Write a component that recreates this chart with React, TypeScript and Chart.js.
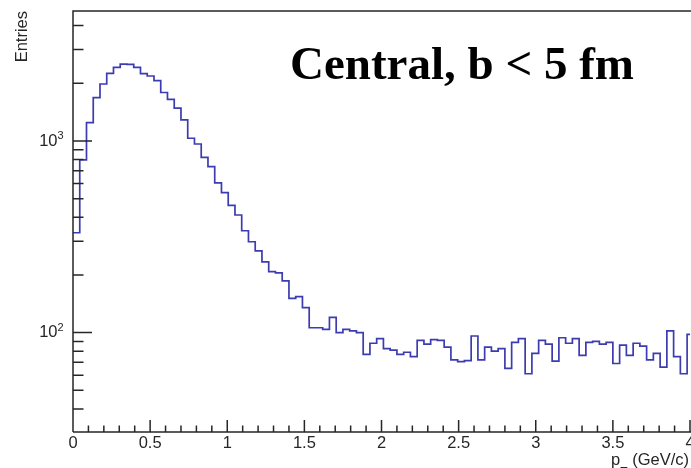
import React, { useEffect, useRef } from "react";
import { Chart, registerables } from "chart.js";

Chart.register(...registerables);

// ---- data ----
const BIN_WIDTH = 0.04375; // GeV/c per bin
const COUNTS = [
  332, 796, 1246, 1683, 1983, 2254, 2423, 2520, 2510, 2423,
  2245, 2183, 2064, 1790, 1650, 1485, 1287, 1033, 964, 822,
  735, 604, 538, 461, 411, 340, 298, 267, 234, 208,
  205, 186, 151, 154, 135, 106, 106, 104, 120, 100,
  104, 102, 100, 77, 88, 93, 82.5, 81, 77, 79,
  75, 91, 87, 92, 91, 84, 72, 70.6, 71.4, 96,
  72, 84, 80, 82.5, 65, 89, 93, 61, 78, 91,
  87, 71, 94, 88, 93, 76, 89, 90, 87, 89,
  69, 86, 76, 88, 85, 72, 78, 66, 102, 75,
  61, 98,
];

const X_MIN = 0;
const X_MAX = 4;
const Y_MIN = 30.3;
const Y_MAX = 4766;

const X_MAJOR_TICKS = [0, 0.5, 1, 1.5, 2, 2.5, 3, 3.5, 4];
const X_TICK_LABELS = ["0", "0.5", "1", "1.5", "2", "2.5", "3", "3.5", "4"];
const X_MINOR_STEP = 0.1;
const Y_MAJOR_TICKS = [100, 1000];
const Y_TICK_BASES = ["10", "10"];
const Y_TICK_EXPONENTS = ["2", "3"];
const Y_MINOR_TICKS = [40, 50, 60, 70, 80, 90, 200, 300, 400, 500, 600, 700, 800, 900, 2000, 3000, 4000];

const Y_TITLE = "Entries";
const X_TITLE_MAIN = "p";
const X_TITLE_SUB = "T";
const X_TITLE_REST = " (GeV/c)";
const ANNOTATION = "Central, b < 5 fm";

// ---- styles ----
const SANS = '"Liberation Sans", Arial, Helvetica, sans-serif';
const SERIF = '"Liberation Serif", "Times New Roman", serif';
const AXIS_COLOR = "#262626";
const LINE_COLOR = "#3c3cb0";

const rootAxesPlugin = {
  id: "rootAxes",
  afterDraw(chart: any) {
    const { ctx, chartArea: a, scales } = chart;
    const xs = scales.x;
    const ys = scales.y;
    ctx.save();
    ctx.strokeStyle = AXIS_COLOR;
    ctx.lineWidth = 1.5;
    ctx.beginPath();
    // frame (left, top, bottom)
    ctx.moveTo(a.left, a.bottom);
    ctx.lineTo(a.left, a.top);
    ctx.lineTo(a.right + 5, a.top);
    ctx.moveTo(a.left, a.bottom);
    ctx.lineTo(a.right + 5, a.bottom);
    // x major ticks
    for (const v of X_MAJOR_TICKS) {
      const px = xs.getPixelForValue(v);
      ctx.moveTo(px, a.bottom);
      ctx.lineTo(px, a.bottom - 12);
    }
    // x minor ticks
    const nMinor = Math.round((X_MAX - X_MIN) / X_MINOR_STEP);
    for (let k = 1; k < nMinor; k++) {
      if (k % 5 === 0) continue;
      const px = xs.getPixelForValue(X_MIN + k * X_MINOR_STEP);
      ctx.moveTo(px, a.bottom);
      ctx.lineTo(px, a.bottom - 6.5);
    }
    // y major ticks
    for (const v of Y_MAJOR_TICKS) {
      const py = ys.getPixelForValue(v);
      ctx.moveTo(a.left, py);
      ctx.lineTo(a.left + 19, py);
    }
    for (const v of Y_MINOR_TICKS) {
      const py = ys.getPixelForValue(v);
      ctx.moveTo(a.left, py);
      ctx.lineTo(a.left + 10.5, py);
    }
    ctx.stroke();

    ctx.fillStyle = AXIS_COLOR;
    ctx.textBaseline = "alphabetic";
    ctx.textAlign = "left";

    // exponents of the y tick labels (10^n)
    ctx.font = `11px ${SANS}`;
    Y_MAJOR_TICKS.forEach((v, i) => {
      const py = ys.getPixelForValue(v);
      ctx.fillText(Y_TICK_EXPONENTS[i], a.left - 15.5, py - 1.5);
    });

    // x axis title, right aligned at the axis end
    const mainFont = `16.5px ${SANS}`;
    const subFont = `12px ${SANS}`;
    ctx.font = mainFont;
    const restW = ctx.measureText(X_TITLE_REST).width;
    const pW = ctx.measureText(X_TITLE_MAIN).width;
    ctx.font = subFont;
    const subW = ctx.measureText(X_TITLE_SUB).width;
    const right = 689;
    const baseY = 465;
    ctx.font = mainFont;
    ctx.fillText(X_TITLE_REST, right - restW, baseY);
    ctx.font = subFont;
    ctx.fillText(X_TITLE_SUB, right - restW - subW, baseY + 10.5);
    ctx.font = mainFont;
    ctx.fillText(X_TITLE_MAIN, right - restW - subW - pW, baseY);

    // annotation
    ctx.fillStyle = "#000";
    ctx.font = `bold 47px ${SERIF}`;
    ctx.fillText(ANNOTATION, 290, 79);
    ctx.restore();
  },
};

export default function App() {
  const canvasRef = useRef<HTMLCanvasElement | null>(null);

  useEffect(() => {
    const canvas = canvasRef.current;
    if (!canvas) return;
    const points = COUNTS.map((c, i) => ({ x: X_MIN + i * BIN_WIDTH, y: c }));
    points.push({ x: X_MIN + COUNTS.length * BIN_WIDTH, y: COUNTS[COUNTS.length - 1] });

    const chart = new Chart(canvas, {
      type: "line",
      data: {
        datasets: [
          {
            data: points,
            stepped: true,
            borderColor: LINE_COLOR,
            borderWidth: 1.7,
            pointRadius: 0,
            fill: false,
          },
        ],
      },
      options: {
        animation: false,
        responsive: false,
        events: [],
        layout: { autoPadding: false, padding: { left: 0, top: 11, right: 1, bottom: 0 } },
        plugins: { legend: { display: false }, tooltip: { enabled: false } },
        scales: {
          x: {
            type: "linear",
            min: X_MIN,
            max: X_MAX,
            grid: { display: false, drawTicks: false },
            border: { display: false },
            afterBuildTicks: (scale: any) => {
              scale.ticks = X_MAJOR_TICKS.map((v) => ({ value: v }));
            },
            afterFit: (scale: any) => {
              scale.height = 36;
              scale.paddingLeft = 0;
              scale.paddingRight = 0;
              scale.paddingTop = 0;
              scale.paddingBottom = 0;
            },
            ticks: {
              autoSkip: false,
              maxRotation: 0,
              padding: 2,
              color: AXIS_COLOR,
              font: { family: SANS, size: 16.5 },
              callback: (_v: any, i: number) => X_TICK_LABELS[i],
            },
          },
          y: {
            type: "logarithmic",
            min: Y_MIN,
            max: Y_MAX,
            grid: { display: false, drawTicks: false },
            border: { display: false },
            afterBuildTicks: (scale: any) => {
              scale.ticks = Y_MAJOR_TICKS.map((v) => ({ value: v }));
            },
            afterFit: (scale: any) => {
              scale.width = 73;
              scale.paddingLeft = 0;
              scale.paddingRight = 0;
              scale.paddingTop = 0;
              scale.paddingBottom = 0;
            },
            ticks: {
              autoSkip: false,
              padding: 15.5,
              color: AXIS_COLOR,
              font: { family: SANS, size: 16.5 },
              callback: (_v: any, i: number) => Y_TICK_BASES[i],
            },
            title: {
              display: true,
              text: Y_TITLE,
              align: "end",
              color: AXIS_COLOR,
              font: { family: SANS, size: 16.5 },
              padding: { top: 12.6, bottom: 0 },
            },
          },
        },
      },
      plugins: [rootAxesPlugin],
    } as any);
    return () => chart.destroy();
  }, []);

  return (
    <div style={{ position: "absolute", left: 0, top: 0, width: 691, height: 468, overflow: "hidden", background: "#fff" }}>
      <canvas ref={canvasRef} width={691} height={468} style={{ display: "block", width: 691, height: 468 }} />
    </div>
  );
}
